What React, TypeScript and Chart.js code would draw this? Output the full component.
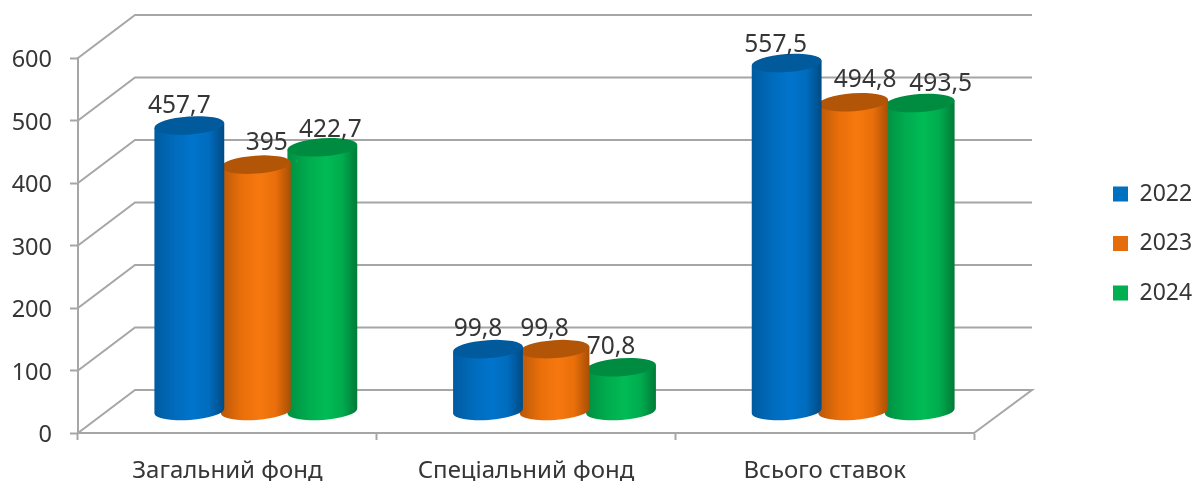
import React, { useEffect, useRef } from "react";
import { Chart, registerables } from "chart.js";

Chart.register(...registerables);

const categories = ["Загальний фонд", "Спеціальний фонд", "Всього ставок"];
const seriesNames = ["2022", "2023", "2024"];
const values2022 = [457.7, 99.8, 557.5];
const values2023 = [395, 99.8, 494.8];
const values2024 = [422.7, 70.8, 493.5];
const yTicks = [0, 100, 200, 300, 400, 500, 600];

const labelNudgeX = [
  [-10, -10, -11],
  [11, -10, 12],
  [8, -10, 21],
];
const labelNudgeY = [
  [-19, -20, -18],
  [-22, -20, -22],
  [-17, -20, -19],
];

const FONT = "'Noto Sans'";
const TEXT = "#363636";
const GRID = "#a6a6a6";
const DEPTH_X = 57;
const DEPTH_Y = 43;
const TILT = -0.07;
const RY = 9;
const LEGEND_PAD = 26.5;

const palettes = [
  { base: "#0070c0", edgeL: "#005ba0", mid: "#006cbd", light: "#0074cc", edgeR: "#004a84", top: "#005a9b" },
  { base: "#e46c0a", edgeL: "#b85808", mid: "#ea6f0a", light: "#f6780f", edgeR: "#a84f05", top: "#b25507" },
  { base: "#00b050", edgeL: "#008f41", mid: "#00ac4e", light: "#00bb56", edgeR: "#007a37", top: "#008c40" },
];

const scene3d = {
  id: "scene3d",
  beforeLayout(chart: any) {
    const l = chart.legend;
    if (l && !l.__fixed) {
      const f = l.fit.bind(l);
      l.fit = () => {
        f();
        l.width = 229;
      };
      l.__fixed = true;
    }
  },
  afterLayout(chart: any) {
    const l = chart.legend;
    if (l) {
      l.left = 1113 - LEGEND_PAD;
      l.top = l.top - 26;
      l.bottom = l.bottom - 26;
    }
  },
  beforeDraw(chart: any) {
    const y = chart.scales.y;
    if (!y.__shifted) {
      y.getLabelItems().forEach((item: any) => {
        item.textOffset += 2.5;
      });
      y.__shifted = true;
    }
  },
  beforeDatasetsDraw(chart: any) {
    const { ctx, scales } = chart;
    const y = scales.y;
    const x = scales.x;
    ctx.save();
    ctx.strokeStyle = GRID;
    ctx.lineWidth = 2;
    ctx.lineJoin = "miter";
    y.ticks.forEach((t: any) => {
      const py = y.getPixelForValue(t.value);
      ctx.beginPath();
      ctx.moveTo(x.left, py);
      ctx.lineTo(x.left + DEPTH_X, py - DEPTH_Y);
      ctx.lineTo(x.right + DEPTH_X + 1, py - DEPTH_Y);
      if (t.value === 0) ctx.lineTo(x.right, py);
      ctx.stroke();
    });
    ctx.restore();
  },
  beforeDatasetDraw(chart: any, args: any) {
    const { ctx } = chart;
    const pal = palettes[args.index];
    const meta = chart.getDatasetMeta(args.index);
    const cos = Math.cos(TILT);
    const sin = Math.sin(TILT);
    meta.data.forEach((el: any) => {
      const rx = (el.width + 3.5) / 2;
      const cx = el.x + DEPTH_X / 2;
      const topY = el.y - DEPTH_Y / 2;
      const botY = el.base - DEPTH_Y / 2;
      const g = ctx.createLinearGradient(cx - rx, 0, cx + rx, 0);
      g.addColorStop(0, pal.edgeL);
      g.addColorStop(0.3, pal.mid);
      g.addColorStop(0.55, pal.light);
      g.addColorStop(0.78, pal.mid);
      g.addColorStop(1, pal.edgeR);
      ctx.save();
      ctx.beginPath();
      ctx.moveTo(cx - rx * cos, topY - rx * sin);
      ctx.lineTo(cx - rx * cos, botY - rx * sin);
      ctx.ellipse(cx, botY, rx, RY, TILT, Math.PI, 0, true);
      ctx.lineTo(cx + rx * cos, topY + rx * sin);
      ctx.closePath();
      ctx.fillStyle = g;
      ctx.fill();
      ctx.beginPath();
      ctx.ellipse(cx, topY, rx, RY, TILT, 0, Math.PI * 2);
      ctx.fillStyle = pal.top;
      ctx.fill();
      ctx.restore();
    });
    return false;
  },
  afterDatasetsDraw(chart: any) {
    const { ctx } = chart;
    ctx.save();
    ctx.font = `24.5px ${FONT}`;
    ctx.fillStyle = TEXT;
    ctx.textAlign = "center";
    ctx.textBaseline = "middle";
    chart.data.datasets.forEach((ds: any, i: number) => {
      chart.getDatasetMeta(i).data.forEach((el: any, j: number) => {
        const cx = el.x + DEPTH_X / 2;
        const topY = el.y - DEPTH_Y / 2;
        const text = String(ds.data[j]).replace(".", ",");
        ctx.fillText(text, cx + labelNudgeX[i][j], topY + labelNudgeY[i][j]);
      });
    });
    ctx.restore();
  },
};

export default function App() {
  const ref = useRef<HTMLCanvasElement | null>(null);
  useEffect(() => {
    const chart = new Chart(ref.current as HTMLCanvasElement, {
      type: "bar",
      data: {
        labels: categories,
        datasets: [values2022, values2023, values2024].map((data, i) => ({
          label: seriesNames[i],
          data,
          backgroundColor: palettes[i].base,
          borderWidth: 0,
          categoryPercentage: 0.668,
          barPercentage: 1,
        })),
      },
      plugins: [scene3d],
      options: {
        animation: false,
        responsive: false,
        maintainAspectRatio: false,
        layout: { padding: { top: 58, left: 0, right: 0, bottom: 0 } },
        scales: {
          x: {
            afterFit: (s: any) => {
              s.height = 48;
            },
            grid: { drawOnChartArea: false, drawTicks: true, tickLength: 7, tickColor: GRID, tickWidth: 2 },
            border: { color: GRID, width: 2 },
            ticks: {
              color: TEXT,
              font: { family: FONT, size: 24 },
              padding: 17,
              maxRotation: 0,
              autoSkip: false,
            },
          },
          y: {
            min: 0,
            max: 600,
            afterFit: (s: any) => {
              s.width = 78;
            },
            afterBuildTicks: (s: any) => {
              s.ticks = yTicks.map((value) => ({ value }));
            },
            grid: { drawOnChartArea: false, drawTicks: true, tickLength: 8, tickColor: GRID, tickWidth: 2 },
            border: { color: GRID, width: 2 },
            ticks: {
              color: TEXT,
              font: { family: FONT, size: 23.5 },
              padding: 18,
            },
          },
        },
        plugins: {
          tooltip: { enabled: false },
          legend: {
            position: "right",
            labels: {
              boxWidth: 15,
              boxHeight: 15,
              padding: LEGEND_PAD,
              color: TEXT,
              font: { family: FONT, size: 23 },
            },
          },
        },
      },
    } as any);
    return () => chart.destroy();
  }, []);
  return (
    <div style={{ position: "fixed", left: 0, top: 0, width: 1203, height: 481, background: "#fff" }}>
      <canvas ref={ref} width={1203} height={481} style={{ display: "block", filter: "blur(0.4px)" }} />
    </div>
  );
}
